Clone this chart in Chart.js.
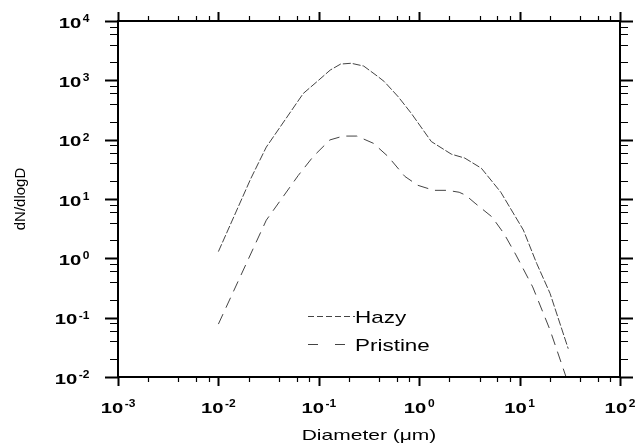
<!DOCTYPE html>
<html>
<head>
<meta charset="utf-8">
<script src="https://cdn.jsdelivr.net/npm/chart.js@4.4.1/dist/chart.umd.min.js"></script>
<style>
html,body{margin:0;padding:0;background:#fff;}
canvas{display:block;}
</style>
</head>
<body>
<canvas id="c" width="638" height="443"></canvas>
<script>
// ---- data ----
const seriesNames = ['Hazy', 'Pristine'];
const hazyDiameter = [0.01, 0.021, 0.03, 0.07, 0.1, 0.13, 0.165, 0.21, 0.28, 0.39, 0.45, 0.62, 0.835, 1.32, 2.09, 2.84, 4.16, 6.5, 10.9, 14.8, 20.1, 30.5];
const hazyValues   = [1.3, 22, 75, 600, 1010, 1490, 1880, 1940, 1740, 1150, 950, 525, 277, 93, 57, 49, 33, 13, 3.0, 0.82, 0.257, 0.03];
const pristineDiameter = [0.01, 0.03, 0.0625, 0.088, 0.129, 0.175, 0.239, 0.349, 0.49, 0.72, 0.97, 1.4, 1.9, 2.5, 2.9, 3.6, 5.3, 7.0, 9.2, 13.5, 20.1, 30];
const pristineValues   = [0.078, 4.4, 25, 52, 99, 115, 115, 87, 52, 24, 17, 14, 14, 13, 11.6, 8.5, 5.0, 2.6, 1.14, 0.33, 0.062, 0.0085];
const xTickExponents = [-3, -2, -1, 0, 1, 2];
const yTickExponents = [-2, -1, 0, 1, 2, 3, 4];
const minorMultipliers = [2, 4, 6, 8];
const xTitle = 'Diameter (\u03BCm)';
const yTitle = 'dN/dlogD';

function pts(xs, ys) { return xs.map((v, i) => ({ x: v, y: ys[i] })); }

function stretchText(ctx, text, x, y, font, sx, align) {
  ctx.save();
  ctx.font = font;
  ctx.translate(x, y);
  ctx.scale(sx, 1);
  ctx.textAlign = align || 'left';
  ctx.textBaseline = 'alphabetic';
  ctx.fillText(text, 0, 0);
  ctx.restore();
}
function textW(ctx, text, font, sx) {
  ctx.save(); ctx.font = font; const w = ctx.measureText(text).width * sx; ctx.restore(); return w;
}

const BASE_FONT = 'bold 14px "Liberation Sans", Arial, sans-serif';
const BASE_SX = 1.45;
const SUP_FONT = 'bold 10px "Liberation Sans", Arial, sans-serif';
const SUP_SX = 1.2;

function powLabel(ctx, exp, x, baseline, mode) {
  const supTxt = String(exp);
  const wb = textW(ctx, '10', BASE_FONT, BASE_SX);
  const ws = textW(ctx, supTxt, SUP_FONT, SUP_SX);
  const gap = 1.5;
  const total = wb + gap + ws;
  let start = mode === 'center' ? x - total / 2 : x - total;
  stretchText(ctx, '10', start, baseline, BASE_FONT, BASE_SX, 'left');
  stretchText(ctx, supTxt, start + wb + gap, baseline - 5.8, SUP_FONT, SUP_SX, 'left');
}

const decor = {
  id: 'decor',
  beforeDraw(chart) {
    const ctx = chart.ctx;
    ctx.save();
    ctx.fillStyle = '#ffffff';
    ctx.fillRect(0, 0, chart.width, chart.height);
    ctx.restore();
  },
  afterDraw(chart) {
    const { ctx, chartArea: a, scales } = chart;
    const xs = scales.x, ys = scales.y;
    ctx.save();
    ctx.strokeStyle = '#000';
    ctx.fillStyle = '#000';
    ctx.lineCap = 'butt';

    // x ticks (top & bottom, outward)
    xTickExponents.forEach((e, i) => {
      const mults = i < xTickExponents.length - 1 ? [1].concat(minorMultipliers) : [1];
      mults.forEach(m => {
        const v = m * Math.pow(10, e);
        const px = Math.round(xs.getPixelForValue(v)) + 0.5;
        const major = m === 1;
        const len = major ? 9 : 5;
        ctx.lineWidth = major ? 2 : 1.2;
        ctx.beginPath();
        ctx.moveTo(px, a.bottom); ctx.lineTo(px, a.bottom + len);
        ctx.moveTo(px, a.top); ctx.lineTo(px, a.top - len);
        ctx.stroke();
      });
    });
    // y ticks (left & right, outward)
    yTickExponents.forEach((e, i) => {
      const mults = i < yTickExponents.length - 1 ? [1].concat(minorMultipliers) : [1];
      mults.forEach(m => {
        const v = m * Math.pow(10, e);
        const py = Math.round(ys.getPixelForValue(v)) + 0.5;
        const major = m === 1;
        const len = major ? 13 : 8;
        ctx.lineWidth = major ? 2 : 1.2;
        ctx.beginPath();
        ctx.moveTo(a.left, py); ctx.lineTo(a.left - len, py);
        ctx.moveTo(a.right, py); ctx.lineTo(a.right + len, py);
        ctx.stroke();
      });
    });
    // frame
    ctx.lineWidth = 2;
    ctx.strokeRect(a.left, a.top, a.right - a.left, a.bottom - a.top);

    // tick labels
    xTickExponents.forEach(e => {
      const px = xs.getPixelForValue(Math.pow(10, e));
      powLabel(ctx, e, px, a.bottom + 35.5, 'center');
    });
    yTickExponents.forEach(e => {
      const py = ys.getPixelForValue(Math.pow(10, e));
      powLabel(ctx, e, a.left - 28.5, py + 6.7, 'right');
    });

    // axis titles
    stretchText(ctx, xTitle, (a.left + a.right) / 2, a.bottom + 63, '15px "Liberation Sans", Arial, sans-serif', 1.4, 'center');
    ctx.save();
    ctx.translate(25, (a.top + a.bottom) / 2);
    ctx.rotate(-Math.PI / 2);
    ctx.font = '15px "Liberation Sans", Arial, sans-serif';
    ctx.textAlign = 'center';
    ctx.textBaseline = 'alphabetic';
    ctx.fillText(yTitle, 0, 0);
    ctx.restore();

    // legend inside plot
    const lx0 = a.left + 190, lx1 = a.left + 237;
    const ly1 = a.top + 295, ly2 = a.top + 323;
    ctx.strokeStyle = '#444';
    ctx.lineWidth = 1;
    ctx.setLineDash([6, 3]);
    ctx.beginPath(); ctx.moveTo(lx0, ly1 + 0.5); ctx.lineTo(lx1, ly1 + 0.5); ctx.stroke();
    ctx.setLineDash([10, 17]);
    ctx.beginPath(); ctx.moveTo(lx0, ly2 + 0.5); ctx.lineTo(lx1 - 8, ly2 + 0.5); ctx.stroke();
    ctx.setLineDash([]);
    ctx.fillStyle = '#000';
    const LF = '17px "Liberation Sans", Arial, sans-serif';
    stretchText(ctx, seriesNames[0], lx1, ly1 + 7, LF, 1.32, 'left');
    stretchText(ctx, seriesNames[1], lx1, ly2 + 7, LF, 1.32, 'left');
    ctx.restore();
  }
};

new Chart(document.getElementById('c'), {
  type: 'scatter',
  data: {
    datasets: [
      {
        label: seriesNames[0],
        data: pts(hazyDiameter, hazyValues),
        showLine: true,
        borderColor: '#444',
        borderWidth: 1,
        borderDash: [8, 2],
        pointRadius: 0,
        tension: 0
      },
      {
        label: seriesNames[1],
        data: pts(pristineDiameter, pristineValues),
        showLine: true,
        borderColor: '#444',
        borderWidth: 1,
        borderDash: [11, 7],
        pointRadius: 0,
        tension: 0
      }
    ]
  },
  options: {
    responsive: false,
    animation: false,
    devicePixelRatio: 1,
    layout: { padding: { left: 118, right: 18, top: 21, bottom: 66 } },
    plugins: { legend: { display: false }, tooltip: { enabled: false } },
    scales: {
      x: { type: 'logarithmic', min: 1e-3, max: 1e2, display: false },
      y: { type: 'logarithmic', min: 1e-2, max: 1e4, display: false }
    }
  },
  plugins: [decor]
});
</script>
</body>
</html>
